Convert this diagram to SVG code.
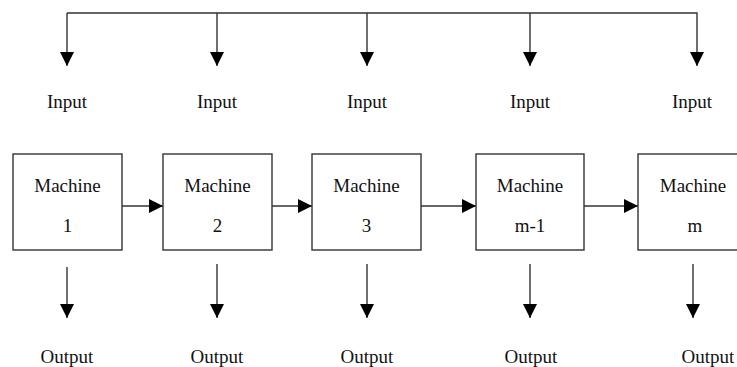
<svg xmlns="http://www.w3.org/2000/svg" width="737" height="367" viewBox="0 0 737 367">
  <style>
    .box { fill: #ffffff; stroke: #333333; stroke-width: 1.4; }
    .wire { fill: none; stroke: #333333; stroke-width: 1.4; }
    .lbl { font-family: "Liberation Serif", "Times New Roman", serif; font-size: 19px; fill: #111111; text-anchor: middle; }
  </style>
  <defs>
    <marker id="arrow" viewBox="0 0 14 14" refX="14" refY="7" markerWidth="14" markerHeight="14" markerUnits="userSpaceOnUse" orient="auto">
      <path d="M0,0 L14,7 L0,14 Z" fill="#000000"/>
    </marker>
  </defs>
  <rect width="737" height="367" fill="#ffffff"/>

  <g id="connectors">
    <!-- shared input bus with a drop to every machine -->
    <path class="wire" d="M67,13 H697 V66" marker-end="url(#arrow)"/>
    <path class="wire" d="M67,13 V66" marker-end="url(#arrow)"/>
    <path class="wire" d="M217,13 V66" marker-end="url(#arrow)"/>
    <path class="wire" d="M367,13 V66" marker-end="url(#arrow)"/>
    <path class="wire" d="M530,13 V66" marker-end="url(#arrow)"/>
    <!-- machine to machine flow -->
    <path class="wire" d="M122,206 H163" marker-end="url(#arrow)"/>
    <path class="wire" d="M272,206 H312" marker-end="url(#arrow)"/>
    <path class="wire" d="M421,206 H476" marker-end="url(#arrow)"/>
    <path class="wire" d="M584,206 H638" marker-end="url(#arrow)"/>
    <!-- outputs -->
    <path class="wire" d="M67,267 V318" marker-end="url(#arrow)"/>
    <path class="wire" d="M217,264 V318" marker-end="url(#arrow)"/>
    <path class="wire" d="M367,264 V318" marker-end="url(#arrow)"/>
    <path class="wire" d="M530,264 V318" marker-end="url(#arrow)"/>
    <path class="wire" d="M693,264 V318" marker-end="url(#arrow)"/>
  </g>

  <g id="inputs">
    <text class="lbl" x="67" y="108">Input</text>
    <text class="lbl" x="217" y="108">Input</text>
    <text class="lbl" x="367" y="108">Input</text>
    <text class="lbl" x="530" y="108">Input</text>
    <text class="lbl" x="692" y="108">Input</text>
  </g>

  <g id="machine-1">
    <rect class="box" x="13" y="154" width="109" height="96"/>
    <text class="lbl" x="67.5" y="192">Machine</text>
    <text class="lbl" x="67.5" y="232">1</text>
  </g>
  <g id="machine-2">
    <rect class="box" x="163" y="154" width="109" height="96"/>
    <text class="lbl" x="217.5" y="192">Machine</text>
    <text class="lbl" x="217.5" y="232">2</text>
  </g>
  <g id="machine-3">
    <rect class="box" x="312" y="154" width="109" height="96"/>
    <text class="lbl" x="366.5" y="192">Machine</text>
    <text class="lbl" x="366.5" y="232">3</text>
  </g>
  <g id="machine-m-1">
    <rect class="box" x="476" y="154" width="108" height="96"/>
    <text class="lbl" x="530" y="192">Machine</text>
    <text class="lbl" x="530" y="232">m-1</text>
  </g>
  <g id="machine-m">
    <rect class="box" x="638" y="154" width="109" height="96"/>
    <text class="lbl" x="693" y="192">Machine</text>
    <text class="lbl" x="695" y="232">m</text>
  </g>

  <g id="outputs">
    <text class="lbl" x="67" y="363">Output</text>
    <text class="lbl" x="217" y="363">Output</text>
    <text class="lbl" x="367" y="363">Output</text>
    <text class="lbl" x="531" y="363">Output</text>
    <text class="lbl" x="708" y="363">Output</text>
  </g>
</svg>
